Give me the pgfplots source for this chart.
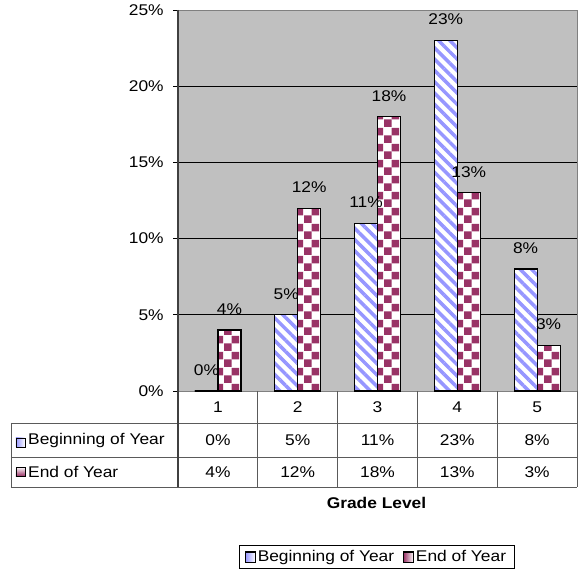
\documentclass[border=0pt]{standalone}
\usepackage{fontspec}
\setmainfont{Liberation Sans}[FakeStretch=1.12]
\usepackage{pgfplots}
\usepackage{pgfplotstable}
\pgfplotsset{compat=1.18}
\usetikzlibrary{patterns.meta}

\definecolor{bggray}{RGB}{192,192,192}
\definecolor{stripeblue}{RGB}{150,150,255}
\definecolor{plum}{RGB}{153,51,102}
\definecolor{tablegray}{RGB}{90,90,90}

\tikzdeclarepattern{
  name=checker, type=uncolored,
  bottom left={(0bp,0bp)}, top right={(16bp,16bp)},
  tile size={(16bp,16bp)},
  code={\fill (0bp,0bp) rectangle (8bp,8bp);
        \fill (8bp,8bp) rectangle (16bp,16bp);}
}

% share of students by grade level
\pgfplotstableread{
grade begin end
1 0 4
2 5 12
3 11 18
4 23 13
5 8 3
}\gradedata

\begin{document}
\fontsize{15.5bp}{18bp}\selectfont
\begin{tikzpicture}[x=1bp,y=1bp]
\path[use as bounding box] (-178,-184) rectangle (401,391);
\begin{axis}[
  at={(0,0)}, anchor=south west,
  scale only axis, width=399bp, height=381bp,
  xmin=0.5, xmax=5.5, ymin=0, ymax=25,
  ybar=0pt, bar width=23bp,
  axis background/.style={fill=bggray},
  axis line style={draw=black!50, line width=0.8bp},
  ymajorgrids, major grid style={draw=black, line width=0.8bp},
  tick align=outside, major tick length=5bp,
  ytick={0,5,...,25}, yticklabels={0\%,5\%,10\%,15\%,20\%,25\%},
  ytick pos=left, ytick style={draw=black, line width=0.8bp},
  yticklabel style={xshift=-4bp},
  xtick={1,...,5}, xticklabels={1,2,3,4,5},
  xtick style={draw=none},
  xticklabel style={anchor=center, yshift=-11bp},
  nodes near coords={\pgfmathprintnumber[assume math mode=true]{\pgfplotspointmeta}\%},
  every node near coord/.append style={anchor=center, yshift=21bp},
  legend style={at={(rel axis cs:0.4975,-0.4357)}, anchor=center,
    draw=black, line width=0.8bp, inner xsep=6bp, inner ysep=3bp,
    legend columns=-1, /tikz/every even column/.append style={column sep=7bp}},
]
\addplot[draw=black, line width=1.2bp, preaction={fill=white},
  pattern={Lines[angle=-45,distance=8bp,line width=3.5bp]}, pattern color=stripeblue,
  legend image code/.code={\draw[black, line width=0.8bp, left color=stripeblue, right color=white]
    (0bp,-5bp) rectangle (10bp,5bp);}]
  table[x=grade, y=begin] {\gradedata};
\addplot[draw=black, line width=1.2bp, preaction={fill=white},
  pattern=checker, pattern color=plum,
  legend image code/.code={\draw[black, line width=0.8bp, left color=plum, right color=white]
    (0bp,-5bp) rectangle (10bp,5bp);}]
  table[x=grade, y=end] {\gradedata};
\legend{Beginning of Year, End of Year}
\end{axis}

% data table under the plot
\begin{scope}[tablegray, line width=0.9bp]
  \draw (-167,-32) -- (399,-32);
  \draw (-167,-66) -- (399,-66);
  \draw (-167,-96) -- (399,-96);
  \draw (-167,-32) -- (-167,-96);
  \foreach \k in {1,...,4} \draw ({79.8*\k},0) -- ({79.8*\k},-96);
  \draw (399,0) -- (399,-96);
\end{scope}
\draw[black!75, line width=1.4bp] (0,381) -- (0,-96);

\draw[black, line width=0.7bp, left color=stripeblue, right color=white] (-162,-56) rectangle (-153,-47);
\draw[black, line width=0.7bp, top color=white, bottom color=plum] (-162,-85) rectangle (-153,-76);
\node[anchor=west, inner sep=0] at (-150,-49) {Beginning of Year};
\node[anchor=west, inner sep=0] at (-150,-81) {End of Year};

\foreach \v [count=\i] in {0,5,11,23,8}
  \node at ({79.8*(\i-0.5)},-49) {\v\%};
\foreach \v [count=\i] in {4,12,18,13,3}
  \node at ({79.8*(\i-0.5)},-81) {\v\%};

\node[font=\bfseries] at (198.5,-112) {Grade Level};
\end{tikzpicture}
\end{document}
